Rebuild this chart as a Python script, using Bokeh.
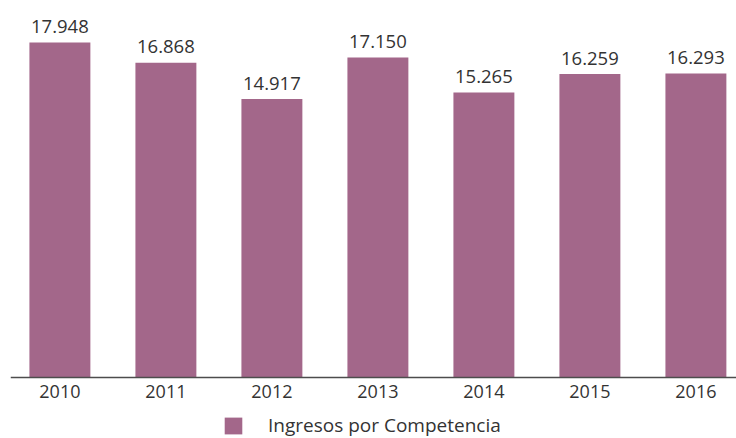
from bokeh.plotting import figure
from bokeh.models import ColumnDataSource, Range1d, Legend, LegendItem, Span
from bokeh.core.properties import value
from bokeh.embed import file_html
from bokeh.resources import INLINE

years = [2010, 2011, 2012, 2013, 2014, 2015, 2016]
ingresos = [17948, 16868, 14917, 17150, 15265, 16259, 16293]
series_name = "Ingresos por Competencia"

labels = [f"{v:,}".replace(",", ".") for v in ingresos]
tick_labels = [str(y) for y in years]
baseline = [0] * len(years)

FONT = "Open Sans"
BAR = "#a3678a"
TXT = "#333333"

src = ColumnDataSource(dict(x=years, y=ingresos, lab=labels, base=baseline, tick=tick_labels))

p = figure(width=736, height=438, output_backend="svg", toolbar_location=None,
           x_range=Range1d(2009.534, 2016.383), y_range=Range1d(-3268, 20198),
           x_axis_location=None, y_axis_location=None,
           min_border_left=10, min_border_right=0,
           min_border_top=0, min_border_bottom=0)
p.outline_line_color = None
p.grid.visible = False

r = p.vbar(x="x", top="y", bottom="base", width=0.575, source=src,
           fill_color=BAR, line_color=None)

# value labels above bars
p.text(x="x", y="y", text="lab", source=src, text_align="center",
       text_baseline="alphabetic", y_offset=-16, text_font=value(FONT),
       text_font_size="18.5px", text_color=TXT)

# category axis: baseline line and year labels
p.add_layout(Span(location=0, dimension="width", line_color="#4d4d4d", line_width=1.5))
p.text(x="x", y="base", text="tick", source=src, text_align="center",
       text_baseline="alphabetic", y_offset=14, text_font=value(FONT),
       text_font_size="18px", text_color=TXT)

legend = Legend(items=[LegendItem(label=series_name, renderers=[r])],
                location=(212, 0), orientation="horizontal",
                glyph_width=22, glyph_height=21, label_standoff=24,
                label_text_font=FONT, label_text_font_size="19px",
                label_text_color=TXT, border_line_color=None,
                background_fill_alpha=0, padding=0, margin=0)
p.add_layout(legend, "center")

open("out.html", "w").write(file_html(p, INLINE))
